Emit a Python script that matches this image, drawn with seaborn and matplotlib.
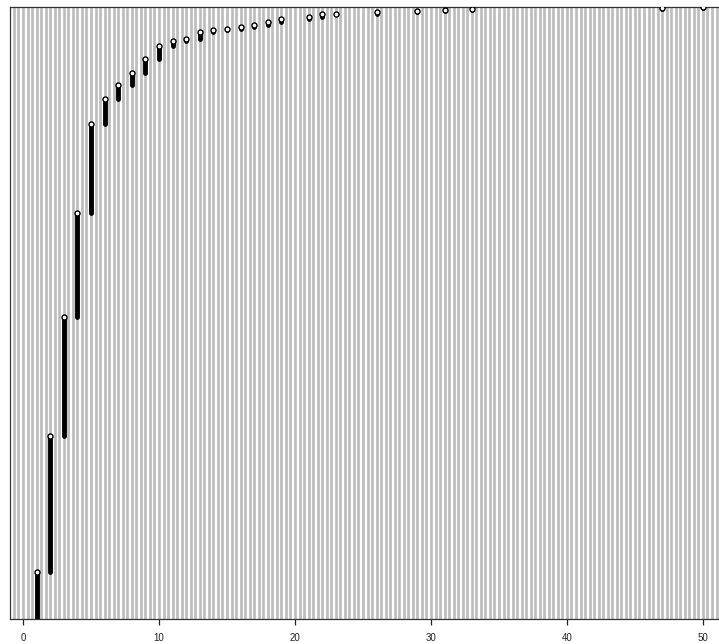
import numpy as np
import pandas as pd
import seaborn as sns
import matplotlib.pyplot as plt
from matplotlib.ticker import MultipleLocator

sns.set_style('white')
plt.rcParams['font.family'] = ['Liberation Sans', 'DejaVu Sans']

values = [1, 2, 3, 4, 5, 6, 7, 8, 9, 10, 11, 12, 13, 14, 15, 16, 17, 18, 19,
          21, 22, 23, 26, 29, 31, 33, 47, 50]
cum_share = [0.077, 0.299, 0.493, 0.663, 0.809, 0.850, 0.873, 0.892, 0.915,
             0.936, 0.944, 0.948, 0.959, 0.962, 0.964, 0.967, 0.971, 0.976,
             0.980, 0.984, 0.988, 0.989, 0.992, 0.9935, 0.995, 0.997, 0.9985,
             1.0]
x_ticks = [0, 10, 20, 30, 40, 50]

df = pd.DataFrame({'value': values, 'cum_share': cum_share})
df['prev'] = df['cum_share'].shift(fill_value=0)

fig = plt.figure(figsize=(7.19, 6.44), dpi=100)
ax = fig.add_axes([10 / 719, 25 / 644, 709 / 719, 612 / 644])

# dense gray stripes in the background
ax.xaxis.set_minor_locator(MultipleLocator(1 / 3))
ax.grid(which='both', axis='x', color='#bebebe', lw=2.0)
ax.set_axisbelow(True)

# vertical steps of the ecdf
ax.vlines(df['value'], df['prev'], df['cum_share'], color='black', lw=3.5,
          capstyle='round', zorder=2)
sns.scatterplot(data=df, x='value', y='cum_share', marker='o', s=13,
                color='white', edgecolor='black', linewidth=1.0, ax=ax,
                zorder=3)

ax.set_xlim(-0.956, 51.18)
ax.set_ylim(0, 1.0)
ax.set_xticks(x_ticks)
ax.set_yticks([])
ax.set_xlabel('')
ax.set_ylabel('')
ax.tick_params(axis='x', which='major', length=4, width=0.9, labelsize=7,
               pad=6, colors='#222222', bottom=True)
ax.tick_params(axis='x', which='minor', length=0)

for side in ['left', 'bottom', 'top']:
    ax.spines[side].set_color('#333333')
    ax.spines[side].set_linewidth(0.9)
ax.spines['right'].set_visible(False)

fig.savefig('out.png', dpi=100)
